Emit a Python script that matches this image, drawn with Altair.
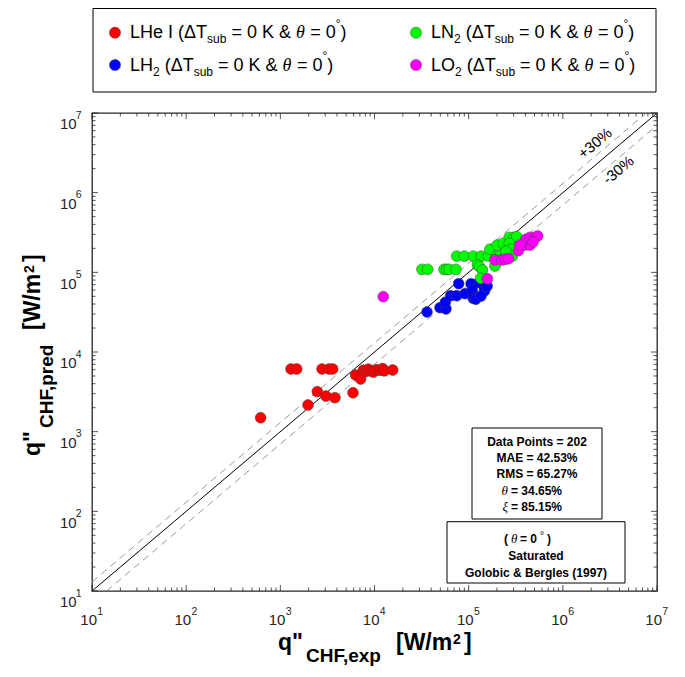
import altair as alt
import pandas as pd

# ---------------- data ----------------
LHE_X = [618, 1298, 1493, 2770, 3288, 3597, 6310, 7130, 7600, 8120, 8590, 9180, 9710,
         10500, 11400, 12200, 12700, 15600, 2470, 3050, 3800, 5910, 1967]
LHE_Y = [1496, 6120, 6120, 6120, 6120, 6120, 5140, 4580, 5900, 5700, 6100, 5800, 5600,
         6000, 5900, 6200, 5800, 5940, 3180, 2800, 2670, 3080, 2160]

LH2_X = [36100, 49600, 57400, 56500, 64400, 74600, 91400, 78300, 106000, 129000, 109000,
         149000, 112000, 119000, 147000, 135000, 157000]
LH2_Y = [31800, 36000, 34700, 42100, 50900, 50900, 54000, 72000, 72000, 74100, 60000,
         63100, 47200, 45900, 58300, 50400, 67300]

LN2_X = [31900, 36700, 54700, 58400, 62300, 73300, 74600, 89900, 112000, 136000, 162000,
         168000, 124000, 130000, 140000, 134000, 190000, 198000, 215000, 253000, 270000,
         291000, 201000, 233000, 270000, 303000, 324000, 270000, 281000, 249000]
LN2_Y = [109000, 109000, 109000, 109000, 109000, 109000, 160000, 160000, 160000, 160000,
         160000, 195000, 124000, 118000, 107000, 84200, 120000, 160000, 164000, 164000,
         170000, 160000, 220000, 231000, 275000, 275000, 280000, 231000, 195000, 184000]

LO2_X = [12400, 158000, 190000, 224000, 243000, 264000, 337000, 396000, 448000, 406000,
         448000, 506000, 541000, 351000, 482000]
LO2_Y = [49500, 83200, 143000, 143000, 146000, 148000, 187000, 220000, 220000, 260000,
         275000, 275000, 286000, 220000, 240000]

SERIES = ["LHe I", "LH2", "LN2", "LO2"]
COLORS = ["#ff0000", "#0000ff", "#00ff00", "#ff00ff"]

DIAG_X, DIAG_Y = [10, 1e7], [10, 1e7]
PLUS_X, PLUS_Y = [10, 7.69e6], [13, 1e7]
MINUS_X, MINUS_Y = [14.3, 1e7], [10, 7e6]

DECADES = [1e1, 1e2, 1e3, 1e4, 1e5, 1e6, 1e7]
EXPONENTS = ["1", "2", "3", "4", "5", "6", "7"]
MINOR_MULT = [2, 3, 4, 5, 6, 7, 8, 9]

STATS = ["Data Points = 202", "MAE = 42.53%", "RMS = 65.27%"]
THETA_TXT, XI_TXT = "= 34.65%", "= 85.15%"
NOTE = ["Saturated", "Golobic & Bergles (1997)"]

# ---------------- layout / style ----------------
W, H = 565, 478
F = "Liberation Sans"
SERIF = "Liberation Serif"
AX = "#262626"
XS = alt.Scale(type="log", domain=[10, 1e7], nice=False)
YS = alt.Scale(type="log", domain=[10, 1e7], nice=False)
ONE = pd.DataFrame({"k": [0]})


def txt(t, x, y, size, weight="normal", style="normal", font=F, align="left",
        color="black", angle=0, baseline="alphabetic"):
    props = dict(text=t, fontSize=size, fontWeight=weight, fontStyle=style, font=font,
                 align=align, baseline=baseline, color=color)
    if angle:
        props["angle"] = angle
    return alt.Chart(ONE).mark_text(**props).encode(x=alt.value(x), y=alt.value(y))


layers = []

# reference lines
def line(xv, yv, **kw):
    df = pd.DataFrame({"x": xv, "y": yv})
    return alt.Chart(df).mark_line(clip=True, **kw).encode(
        x=alt.X("x:Q", scale=XS, axis=None), y=alt.Y("y:Q", scale=YS, axis=None))

layers.append(line(PLUS_X, PLUS_Y, color="#808080", strokeWidth=0.8, strokeDash=[7, 5]))
layers.append(line(MINUS_X, MINUS_Y, color="#808080", strokeWidth=0.8, strokeDash=[7, 5]))
layers.append(line(DIAG_X, DIAG_Y, color="black", strokeWidth=1))

# points
pts = pd.DataFrame({
    "x": LHE_X + LH2_X + LN2_X + LO2_X,
    "y": LHE_Y + LH2_Y + LN2_Y + LO2_Y,
    "s": [SERIES[0]] * len(LHE_X) + [SERIES[1]] * len(LH2_X)
         + [SERIES[2]] * len(LN2_X) + [SERIES[3]] * len(LO2_X),
})
layers.append(alt.Chart(pts).mark_circle(size=118, opacity=1, stroke="#404040", strokeWidth=0.5).encode(
    x=alt.X("x:Q", scale=XS, axis=None),
    y=alt.Y("y:Q", scale=YS, axis=None),
    fill=alt.Fill("s:N", scale=alt.Scale(domain=SERIES, range=COLORS), legend=None),
))

# inward ticks on all four sides
maj = pd.DataFrame({"v": DECADES})
mnr = pd.DataFrame({"v": [m * d for d in DECADES[:-1] for m in MINOR_MULT]})
for df, L in [(maj, 6), (mnr, 3.5)]:
    xf = alt.X("v:Q", scale=XS, axis=None)
    yf = alt.Y("v:Q", scale=YS, axis=None)
    layers.append(alt.Chart(df).mark_rule(color=AX, strokeWidth=0.8).encode(x=xf, y=alt.value(H), y2=alt.value(H - L)))
    layers.append(alt.Chart(df).mark_rule(color=AX, strokeWidth=0.8).encode(x=xf, y=alt.value(0), y2=alt.value(L)))
    layers.append(alt.Chart(df).mark_rule(color=AX, strokeWidth=0.8).encode(y=yf, x=alt.value(0), x2=alt.value(L)))
    layers.append(alt.Chart(df).mark_rule(color=AX, strokeWidth=0.8).encode(y=yf, x=alt.value(W), x2=alt.value(W - L)))

# tick labels 10^n
lab = pd.DataFrame({"v": DECADES, "b": ["10"] * len(DECADES), "e": EXPONENTS})
layers.append(alt.Chart(lab).mark_text(fontSize=15, font=F, color=AX, align="center", dx=-3.3).encode(
    x=alt.X("v:Q", scale=XS, axis=None), y=alt.value(507), text="b:N"))
layers.append(alt.Chart(lab).mark_text(fontSize=10.5, font=F, color=AX, align="left", dx=5.3).encode(
    x=alt.X("v:Q", scale=XS, axis=None), y=alt.value(499), text="e:N"))
layers.append(alt.Chart(lab).mark_text(fontSize=15, font=F, color=AX, align="right", dy=11.4).encode(
    y=alt.Y("v:Q", scale=YS, axis=None), x=alt.value(-15.3), text="b:N"))
layers.append(alt.Chart(lab).mark_text(fontSize=10.5, font=F, color=AX, align="right", dy=2.5).encode(
    y=alt.Y("v:Q", scale=YS, axis=None), x=alt.value(-10.3), text="e:N"))

# +/-30% labels
layers.append(txt("+30%", 503, 30.3, 15, align="center", baseline="middle", angle=320))
layers.append(txt("-30%", 526.3, 57, 15, align="center", baseline="middle", angle=320))

# axis titles
layers += [
    txt("q\"", 186, 537, 23, weight="bold"),
    txt("CHF,exp", 214, 549, 19, weight="bold"),
    txt("[W/m", 304, 537, 23, weight="bold"),
    txt("2", 361, 531, 14, weight="bold"),
    txt("]", 372, 537, 23, weight="bold"),
]
YT0 = 343
layers += [
    txt("q\"", -52, YT0, 23, weight="bold", angle=270),
    txt("CHF,pred", -39, YT0 - 28, 19, weight="bold", angle=270),
    txt("[W/m", -52, YT0 - 126, 23, weight="bold", angle=270),
    txt("2", -58, YT0 - 183, 14, weight="bold", angle=270),
    txt("]", -52, YT0 - 194, 23, weight="bold", angle=270),
]

# stats boxes
def box(x1, x2, y1, y2):
    return alt.Chart(ONE).mark_rect(fill="white", stroke="black", strokeWidth=1).encode(
        x=alt.value(x1), x2=alt.value(x2), y=alt.value(y1), y2=alt.value(y2))

layers.append(box(380, 510, 315, 406))
layers.append(box(355, 533, 408.7, 470))
for t, b in zip(STATS, [333.3, 349, 365.3]):
    layers.append(txt(t, 445, b, 12, weight="bold", align="center"))
layers.append(txt("θ", 416, 382.3, 13, style="italic", font=SERIF, align="right"))
layers.append(txt(THETA_TXT, 419, 382.3, 12, weight="bold"))
layers.append(txt("ξ", 416, 398.3, 13, style="italic", font=SERIF, align="right"))
layers.append(txt(XI_TXT, 419, 398.3, 12, weight="bold"))
layers += [
    txt("(", 412, 430.3, 12, weight="bold"),
    txt("θ", 419, 430.3, 13, style="italic", font=SERIF),
    txt("= 0", 428, 430.3, 12, weight="bold"),
    txt("°", 448, 426, 10),
    txt(")", 455, 430.3, 12, weight="bold"),
]
for t, b in zip(NOTE, [447.3, 464]):
    layers.append(txt(t, 444, b, 12, weight="bold", align="center"))

# legend
AW = {' ': 278, '(': 333, ')': 333, 'Δ': 668, 'T': 611, 's': 500, 'u': 556, 'b': 556,
      '=': 584, '0': 556, 'K': 667, '&': 667, 'θ': 520, 'L': 556, 'H': 722, 'e': 556,
      'I': 278, 'N': 722, 'O': 778, '2': 556, '°': 400}


def tw(s, size):
    return sum(AW.get(c, 556) for c in s) / 1000 * size


def entry(parts, x0, base):
    out = []
    x = x0
    for t, size, dy, it in parts:
        lead = len(t) - len(t.lstrip(" "))
        core = t.strip(" ")
        trail = len(t) - lead - len(core)
        x += lead * 0.278 * size
        out.append(txt(core, x, base + dy, size, style="italic" if it else "normal",
                       font=SERIF if it else F))
        x += tw(core, size) + trail * 0.278 * size
    return out


TAIL = [(" (ΔT", 18, 0, False), ("sub", 12, 5, False), (" = 0 K & ", 18, 0, False),
        ("θ", 18, 0, True), (" = 0", 18, 0, False), ("°", 12, -10.4, False), (")", 18, 0, False)]
NAMES = [[("LHe I", 18, 0, False)],
         [("LH", 18, 0, False), ("2", 12, 5, False)],
         [("LN", 18, 0, False), ("2", 12, 5, False)],
         [("LO", 18, 0, False), ("2", 12, 5, False)]]
LEG_POS = [(23, 38, -80.3, -74.7), (23, 38, -48, -42.4), (324, 339, -80.3, -74.7), (324, 339, -48, -42.4)]

layers.append(alt.Chart(ONE).mark_rect(fill="white", stroke="black", strokeWidth=1).encode(
    x=alt.value(1), x2=alt.value(564), y=alt.value(-104.5), y2=alt.value(-21)))
for name, (cx, tx, cy, base), col in zip(NAMES, LEG_POS, COLORS):
    layers.append(alt.Chart(ONE).mark_circle(size=125, opacity=1, color=col, stroke="#404040",
                                             strokeWidth=0.5).encode(x=alt.value(cx), y=alt.value(cy)))
    layers += entry(name + TAIL, tx, base)

chart = alt.layer(*layers).properties(
    width=W, height=H,
    autosize=alt.AutoSizeParams(type="none"),
    padding={"left": 84, "top": 105, "right": 20, "bottom": 76},
).configure_view(stroke=AX, strokeWidth=1.3)

chart.save("out.html", embed_options={"renderer": "svg", "actions": False})
